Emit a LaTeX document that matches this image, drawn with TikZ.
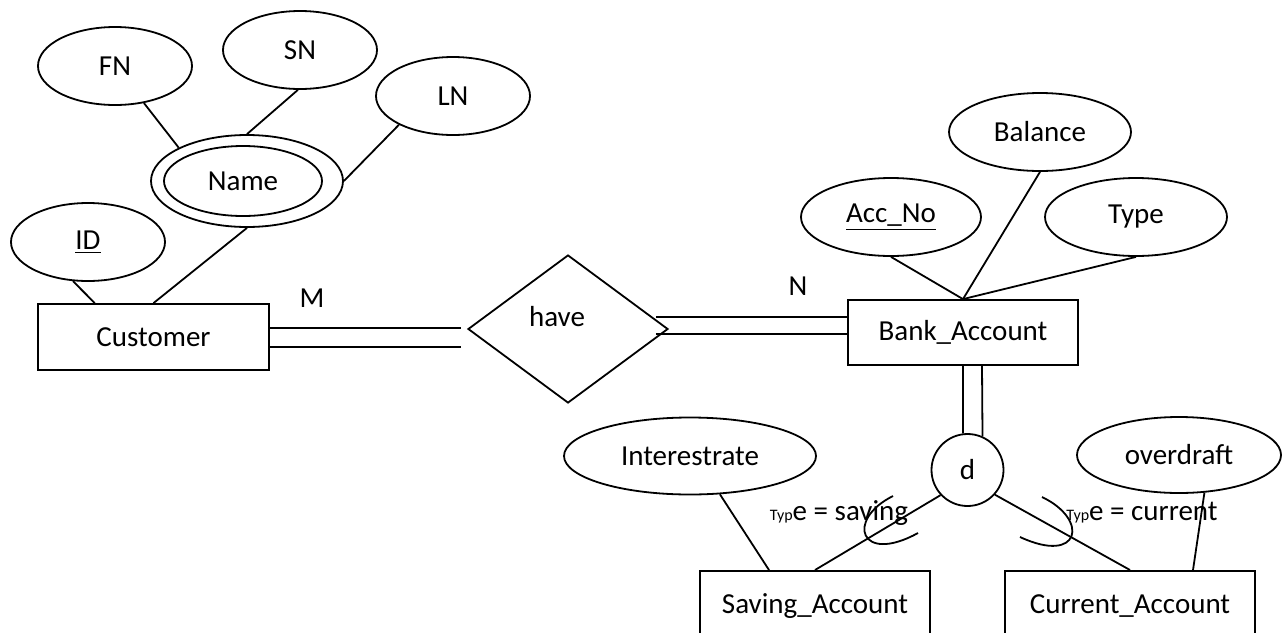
\documentclass[tikz,border=0pt]{standalone}
\usepackage{fontspec}
\setmainfont{Carlito}
\usetikzlibrary{shapes.geometric}

\begin{document}
\begin{tikzpicture}[x=0.5pt, y=-0.5pt, line width=0.9pt,
  font=\fontsize{14.5}{17}\selectfont,
  attr/.style={ellipse, draw, inner sep=0pt, minimum width=77pt, minimum height=39pt},
  entity/.style={rectangle, draw, inner sep=0pt},
  rel/.style={diamond, draw, inner sep=0pt, minimum width=100pt, minimum height=74pt}]
\useasboundingbox (0,0) rectangle (1285,632);
% Customer and its attributes
\node[attr] (FN) at (115,66) {FN};
\node[attr] (SN) at (300,50) {SN};
\node[attr] (LN) at (453,96) {LN};
\node[attr, minimum width=96pt, minimum height=46pt] (NameOut) at (247,181) {};
\node[attr, minimum width=79pt, minimum height=35pt] (Name) at (243,181) {Name};
\node[attr] (ID) at (88,242) {\underline{ID}};
\node[entity, minimum width=115.5pt, minimum height=33pt] (Customer) at (153.5,337) {Customer};
\draw (FN.-52) -- (NameOut.154);
\draw (SN.-93) -- (NameOut.north);
\draw (LN.208) -- (NameOut.east);
\draw (NameOut.south) -- (Customer.north);
\draw (ID.-111) -- (Customer.150);
% Relationship
\node[rel, label={[xshift=-5.5pt, yshift=6pt]center:have}] (have) at (568,329) {};
\node (M) at (312,298) {M};
\node (N) at (798,286) {N};
% Bank account and its attributes
\node[entity, minimum width=115pt, minimum height=32.5pt] (Bank) at (963,332.5) {Bank\_Account};
\node[attr, minimum width=91pt] (Balance) at (1040,132) {Balance};
\node[attr, minimum width=90pt] (AccNo) at (891,217) {\underline{Acc\_No}};
\node[attr, minimum width=91pt] (Type) at (1136,217) {Type};
\draw (AccNo.south) -- (Bank.north);
\draw (Balance.south) -- (Bank.north);
\draw (Type.south) -- (Bank.north);
\draw ([yshift=4.5pt]Customer.east) -- ([shift={(-3pt,0.5pt)}]have.west);
\draw ([yshift=-5pt]Customer.east) -- ([shift={(-3pt,-9pt)}]have.west);
\draw ([shift={(-6.5pt,6pt)}]have.east) -- ([yshift=7.75pt]Bank.west);
\draw ([shift={(-6.5pt,-2.5pt)}]have.east) -- ([yshift=-0.75pt]Bank.west);
% Specialisation
\node[circle, draw, inner sep=0pt, minimum size=36pt] (d) at (967.5,470) {d};
\node[attr, minimum width=126pt, minimum height=38.5pt] (Interest) at (690,456) {Interestrate};
\node[attr, minimum width=102pt, minimum height=38pt] (Overdraft) at (1179,455) {overdraft};
\node[entity, anchor=north, minimum width=115pt, minimum height=35pt] (Saving) at (815,570) {Saving\_Account};
\node[entity, anchor=north, minimum width=125pt, minimum height=35pt] (Current) at (1130,570) {Current\_Account};
\node (SavCond) at (839,513) {{\fontsize{8}{9}\selectfont Typ}e = saving};
\node (CurCond) at (1142,513) {{\fontsize{8}{9}\selectfont Typ}e = current};
\draw (Bank.south) -- (d.97);
\draw ([xshift=9.5pt]Bank.south) -- (d.66);
\draw (d.223) -- (Saving.north);
\draw (d.-42) -- (Current.north);
\draw (Interest.-52) -- ([xshift=-23pt]Saving.north);
\draw (Overdraft.-56) -- ([xshift=31.5pt]Current.north);
\draw (893,496) .. controls (845,520) and (860,565) .. (918,533);
\draw (1042,497) .. controls (1090,520) and (1080,565) .. (1020,537);
\end{tikzpicture}
\end{document}
